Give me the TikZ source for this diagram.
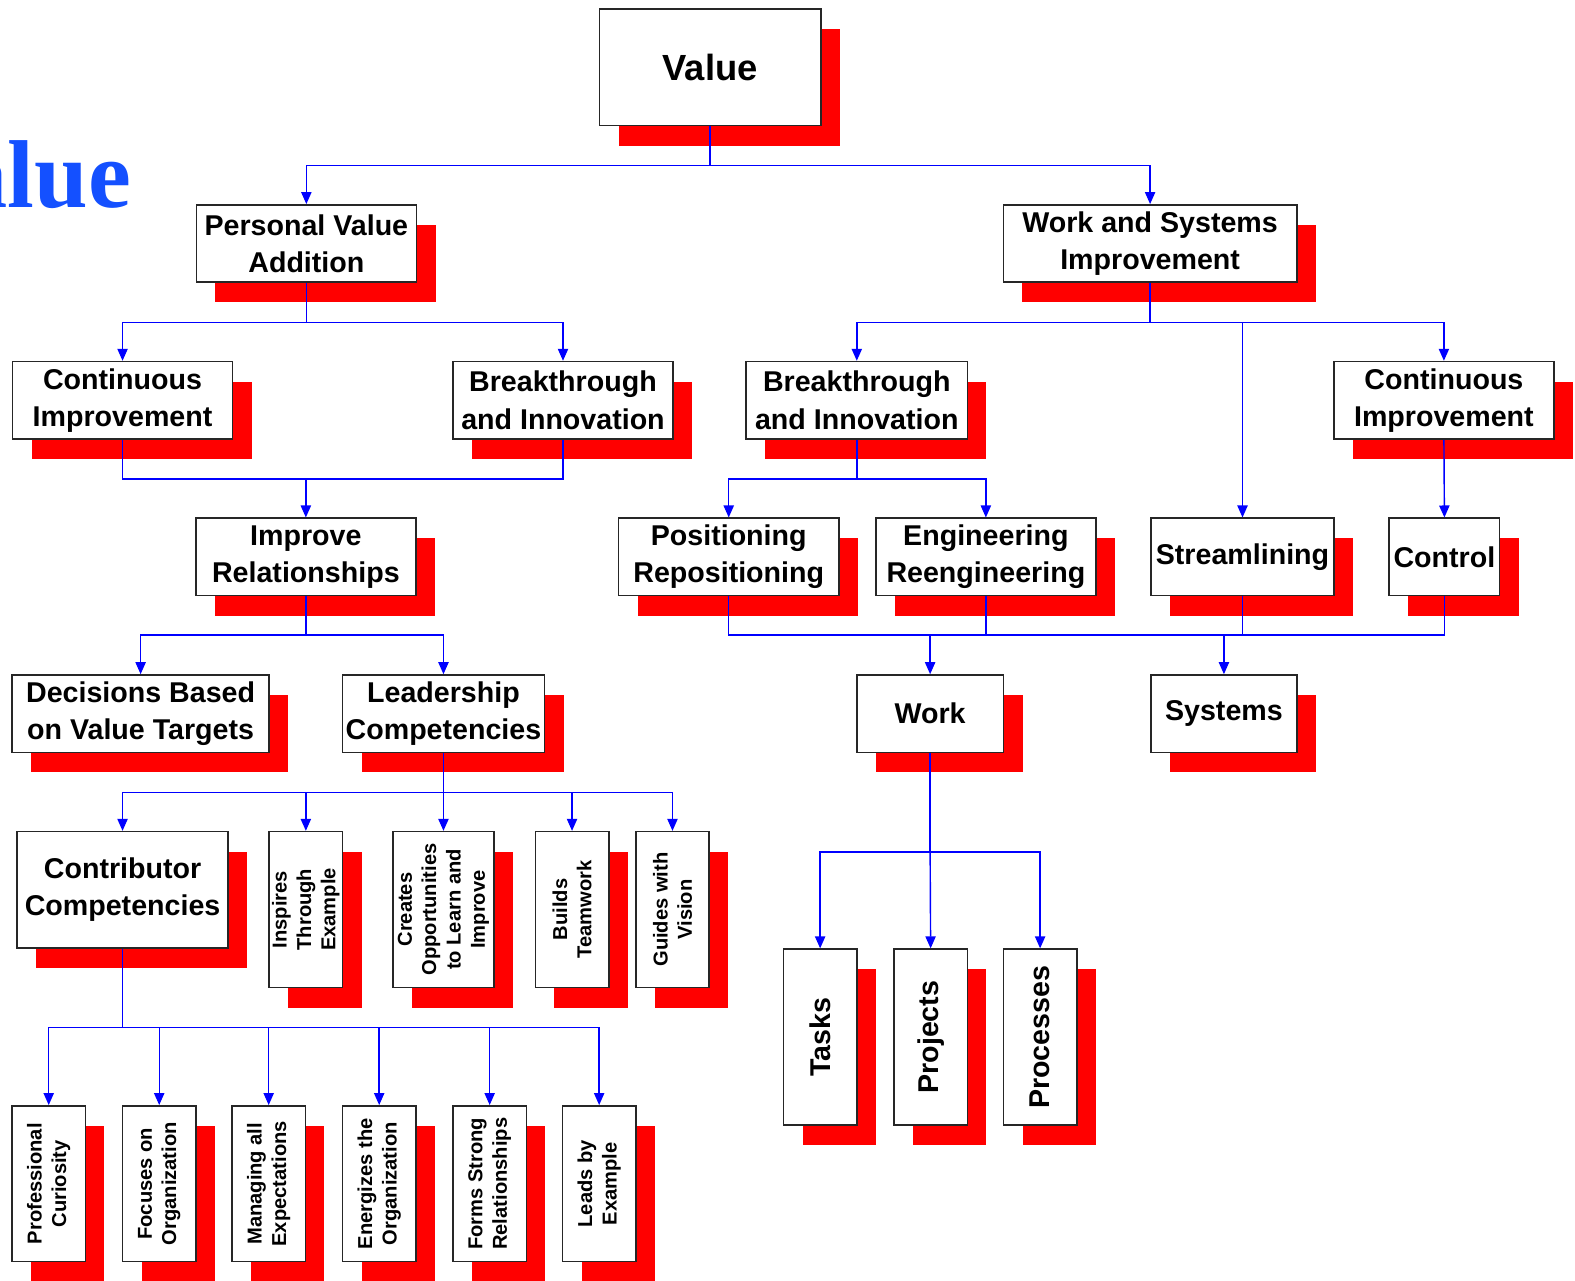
\documentclass[tikz,border=0pt]{standalone}
\usepackage{fontspec}
\setmainfont{Liberation Sans}
\newfontfamily\titleserif{Liberation Serif}
\usetikzlibrary{arrows.meta,shadows}
\definecolor{shadowred}{RGB}{255,0,0}
\definecolor{linkblue}{RGB}{0,0,255}
\definecolor{titleblue}{RGB}{20,80,255}
\tikzset{
  box/.style={draw=black!85, line width=0.45pt, fill=white, inner sep=0pt,
    align=center, font=\bfseries\fontsize{8.1}{10.5}\selectfont,
    general shadow={fill=shadowred, shadow xshift=0.19cm, shadow yshift=-0.2cm}},
  wbox/.style={box, minimum height=0.77cm},
  tallbox/.style={box, minimum width=0.73cm, minimum height=1.55cm},
  vtext/.style={rotate=90, align=center, inner sep=0pt,
    font=\bfseries\fontsize{5.7}{6.9}\selectfont},
  vbig/.style={rotate=90, inner sep=0pt, font=\bfseries\fontsize{8.1}{10}\selectfont},
  link/.style={draw=linkblue, line width=0.4pt},
  arr/.style={link, -{Triangle[length=3.4pt, width=2.9pt]}},
}
\begin{document}
\begin{tikzpicture}[x=0.01cm, y=-0.01cm]
\useasboundingbox (0,0) rectangle (1568,1275);

% title fragment at the left edge
\node[anchor=base east, inner sep=0pt, text=titleblue,
  font=\titleserif\bfseries\fontsize{27.3}{30}\selectfont] (title) at (131,207) {Value};

% top level
\node[box, minimum width=2.2cm, minimum height=1.16cm,
  font=\bfseries\fontsize{10.3}{12}\selectfont] (value) at (707,67) {Value};

% second level
\node[wbox, minimum width=2.19cm] (pva) at (305,242.5) {Personal Value\\Addition};
\node[wbox, minimum width=2.92cm] (wsi) at (1145,242.5) {Work and Systems\\Improvement};

% personal branch
\node[wbox, minimum width=2.19cm] (cil) at (122,398.5) {Continuous\\Improvement};
\node[wbox, minimum width=2.19cm] (bil) at (560.5,398.5) {Breakthrough\\and Innovation};
\node[wbox, minimum width=2.19cm] (ir) at (304.5,554.5) {Improve\\Relationships};
\node[wbox, minimum width=2.56cm] (dbvt) at (140,710.5) {Decisions Based\\on Value Targets};
\node[wbox, minimum width=2.01cm] (lc) at (441.5,710.5) {Leadership\\Competencies};

\node[box, minimum width=2.1cm, minimum height=1.16cm] (cc) at (122,886) {Contributor\\Competencies};
\node[tallbox] (ite) at (304.5,905.5) {};
\node[vtext] (itet) at (ite) {Inspires\\Through\\Example};
\node[tallbox, minimum width=1.01cm] (coli) at (441.5,905.5) {};
\node[vtext] (colit) at (coli) {Creates\\Opportunities\\to Learn and\\Improve};
\node[tallbox] (bt) at (569.5,905.5) {};
\node[vtext] (btt) at (bt) {Builds\\Teamwork};
\node[tallbox] (gv) at (669.5,905.5) {};
\node[vtext] (gvt) at (gv) {Guides with\\Vision};

\node[tallbox] (pc) at (48.5,1178.5) {};
\node[vtext] (pct) at (pc) {Professional\\Curiosity};
\node[tallbox] (fo) at (158.5,1178.5) {};
\node[vtext] (fot) at (fo) {Focuses on\\Organization};
\node[tallbox] (me) at (267.5,1178.5) {};
\node[vtext] (met) at (me) {Managing all\\Expectations};
\node[tallbox] (eo) at (377.5,1178.5) {};
\node[vtext] (eot) at (eo) {Energizes the\\Organization};
\node[tallbox] (fsr) at (487.5,1178.5) {};
\node[vtext] (fsrt) at (fsr) {Forms Strong\\Relationships};
\node[tallbox] (le) at (596.5,1178.5) {};
\node[vtext] (let) at (le) {Leads by\\Example};

% work and systems branch
\node[wbox, minimum width=2.2cm] (bir) at (853,398.5) {Breakthrough\\and Innovation};
\node[wbox, minimum width=2.19cm] (cir) at (1437.5,398.5) {Continuous\\Improvement};
\node[wbox, minimum width=2.19cm] (pr) at (725.5,554.5) {Positioning\\Repositioning};
\node[wbox, minimum width=2.19cm] (er) at (981.5,554.5) {Engineering\\Reengineering};
\node[wbox, minimum width=1.82cm] (str) at (1237,554.5) {Streamlining};
\node[wbox, minimum width=1.1cm] (ctrl) at (1438,554.5) {Control};
\node[wbox, minimum width=1.46cm] (work) at (926,710.5) {Work};
\node[wbox, minimum width=1.45cm] (sys) at (1218.5,710.5) {Systems};

\node[tallbox, minimum height=1.75cm] (tasks) at (816.5,1032.5) {};
\node[vbig] (taskst) at (tasks) {Tasks};
\node[tallbox, minimum height=1.75cm] (proj) at (926.5,1032.5) {};
\node[vbig] (projt) at (proj) {Projects};
\node[tallbox, minimum height=1.75cm] (proc) at (1035.5,1032.5) {};
\node[vbig] (proct) at (proc) {Processes};

% junction points of the connectors
\coordinate (j0) at (707,165);
\coordinate (j1) at (305,321);
\coordinate (j2) at (304.5,477);
\coordinate (j3) at (304.5,632);
\coordinate (j4) at (441.5,789);
\coordinate (j5) at (122,1023);
\coordinate (k1) at (1145,321);
\coordinate (k2) at (853,477);
\coordinate (kw) at (926,632);
\coordinate (ks) at (1218.5,632);
\coordinate (k3) at (926,848);

% connectors
\draw[link] (value.south) -- (j0);
\draw[arr] (j0) -| (pva.north);
\draw[arr] (j0) -| (wsi.north);

\draw[link] (pva.south) -- (j1);
\draw[arr] (j1) -| (cil.north);
\draw[arr] (j1) -| (bil.north);

\draw[link] (cil.south) |- (j2);
\draw[link] (bil.south) |- (j2);
\draw[arr] (j2) -- (ir.north);

\draw[link] (ir.south) -- (j3);
\draw[arr] (j3) -| (dbvt.north);
\draw[arr] (j3) -| (lc.north);

\draw[link] (lc.south) -- (j4);
\draw[arr] (j4) -| (cc.north);
\draw[arr] (j4) -| (ite.north);
\draw[arr] (j4) -- (coli.north);
\draw[arr] (j4) -| (bt.north);
\draw[arr] (j4) -| (gv.north);

\draw[link] (cc.south) -- (j5);
\draw[arr] (j5) -| (pc.north);
\draw[arr] (j5) -| (fo.north);
\draw[arr] (j5) -| (me.north);
\draw[arr] (j5) -| (eo.north);
\draw[arr] (j5) -| (fsr.north);
\draw[arr] (j5) -| (le.north);

\draw[link] (wsi.south) -- (k1);
\draw[arr] (k1) -| (bir.north);
\draw[arr] (k1) -| (str.north);
\draw[arr] (k1) -| (cir.north);

\draw[link] (bir.south) -- (k2);
\draw[arr] (k2) -| (pr.north);
\draw[arr] (k2) -| (er.north);
\draw[arr] (cir.south) -- (ctrl.north);

\draw[link] (pr.south) |- (kw);
\draw[link] (er.south) |- (kw);
\draw[link] (kw) -- (ks);
\draw[link] (str.south) |- (ks);
\draw[link] (ctrl.south) |- (ks);
\draw[arr] (kw) -- (work.north);
\draw[arr] (ks) -- (sys.north);

\draw[link] (work.south) -- (k3);
\draw[arr] (k3) -| (tasks.north);
\draw[arr] (k3) -- (proj.north);
\draw[arr] (k3) -| (proc.north);
\end{tikzpicture}
\end{document}
